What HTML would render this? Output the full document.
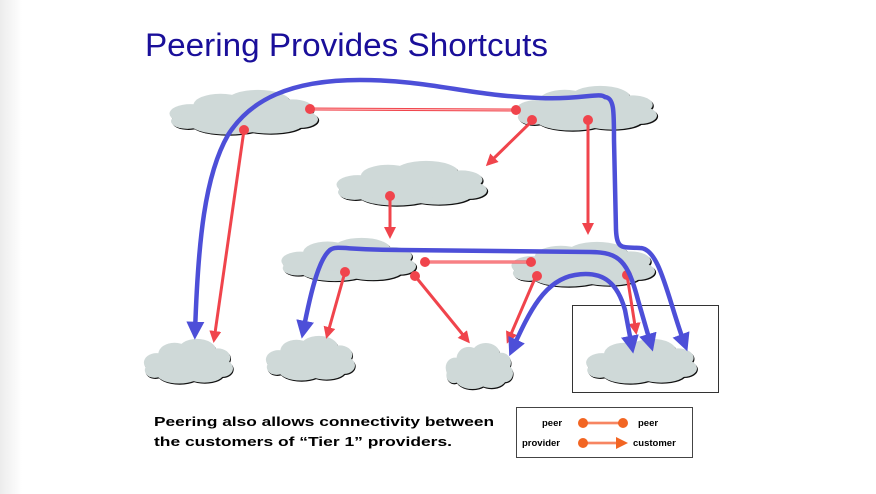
<!DOCTYPE html>
<html><head><meta charset="utf-8"><style>
html,body{margin:0;padding:0;background:#fff;}
svg{display:block}
</style></head><body>
<svg width="876" height="494" viewBox="0 0 876 494" xmlns="http://www.w3.org/2000/svg">
<defs>
<linearGradient id="lg" x1="0" x2="1"><stop offset="0" stop-color="#ececec"/><stop offset="1" stop-color="#fff"/></linearGradient>
<g id="cs">
<ellipse cx="15" cy="27" rx="14" ry="10"/><ellipse cx="35" cy="18" rx="18" ry="12"/><ellipse cx="60" cy="14" rx="21" ry="12"/><ellipse cx="83" cy="22" rx="14" ry="10"/><ellipse cx="88" cy="33" rx="12" ry="9"/><ellipse cx="68" cy="38" rx="22" ry="10"/><ellipse cx="40" cy="38" rx="25" ry="11"/><ellipse cx="13" cy="35" rx="11" ry="8"/><rect x="15" y="18" width="70" height="20"/>
</g>
<g id="cloud"><use href="#cs" transform="translate(0.8,1.2)" fill="#111"/><use href="#cs" fill="#cfd9d8"/></g>
<marker id="ra" markerWidth="4" markerHeight="4" refX="3" refY="2" orient="auto" markerUnits="strokeWidth"><path d="M0,0 L4,2 L0,4 Z" fill="#f0444c"/></marker>
<marker id="ba" markerWidth="4" markerHeight="4" refX="2.5" refY="2" orient="auto-start-reverse" markerUnits="strokeWidth"><path d="M0,0 L4,2 L0,4 Z" fill="#4d4fd8"/></marker>
</defs>
<rect x="0" y="0" width="22" height="494" fill="url(#lg)"/>
<text x="145" y="56" font-family="Liberation Sans, sans-serif" font-size="32" fill="#1a0f9a" textLength="403" lengthAdjust="spacingAndGlyphs">Peering Provides Shortcuts</text>

<use href="#cloud" transform="translate(168,88) scale(1.5,0.95)"/>
<use href="#cloud" transform="translate(515,84) scale(1.42,0.95)"/>
<use href="#cloud" transform="translate(335,159) scale(1.52,0.95)"/>
<use href="#cloud" transform="translate(280,236) scale(1.36,0.92)"/>
<use href="#cloud" transform="translate(510,240) scale(1.45,0.95)"/>
<use href="#cloud" transform="translate(143,337) scale(0.9,0.95)"/>
<use href="#cloud" transform="translate(265,334) scale(0.9,0.95)"/>
<use href="#cloud" transform="translate(445,341) scale(0.68,0.98)"/>
<use href="#cloud" transform="translate(585,337) scale(1.12,0.95)"/>

<rect x="572.5" y="305.5" width="146" height="87" fill="none" stroke="#333" stroke-width="1"/>

<g stroke="#f0444c" stroke-width="3" fill="none">
<line x1="310" y1="109" x2="516" y2="110"/>
<line x1="425" y1="262" x2="531" y2="262"/>
<line x1="532" y1="121" x2="488" y2="164" marker-end="url(#ra)"/>
<line x1="588" y1="121" x2="588" y2="232" marker-end="url(#ra)"/>
<line x1="244" y1="130" x2="214" y2="340" marker-end="url(#ra)"/>
<line x1="390" y1="196" x2="390" y2="236" marker-end="url(#ra)"/>
<line x1="345" y1="272" x2="327" y2="336" marker-end="url(#ra)"/>
<line x1="415" y1="276" x2="468" y2="341" marker-end="url(#ra)"/>
<line x1="536" y1="276" x2="508" y2="341" marker-end="url(#ra)"/>
<line x1="627" y1="275" x2="636" y2="332" marker-end="url(#ra)"/>
</g>
<line x1="310" y1="109" x2="516" y2="110" stroke="#fbb" stroke-width="1"/>
<line x1="425" y1="262" x2="531" y2="262" stroke="#fbb" stroke-width="1"/>
<g fill="#f0444c">
<circle cx="310" cy="109" r="5"/><circle cx="516" cy="110" r="5"/><circle cx="532" cy="120" r="5"/><circle cx="588" cy="120" r="5"/>
<circle cx="244" cy="130" r="5"/><circle cx="390" cy="196" r="5"/><circle cx="425" cy="262" r="5"/><circle cx="531" cy="262" r="5"/>
<circle cx="345" cy="272" r="5"/><circle cx="415" cy="276" r="5"/><circle cx="537" cy="276" r="5"/><circle cx="627" cy="275" r="5"/>
</g>

<g stroke="#4d4fd8" stroke-width="4.5" fill="none" stroke-linecap="round">
<path d="M605,97 C600,92 580,100 540,98 C470,96 430,80 360,80 C290,80 250,100 228,135 C205,175 198,240 195,333" marker-end="url(#ba)"/>
<path d="M605,97 C614,98 614,110 614,140 L616,230 C617,250 622,247 640,248 C660,248 668,300 685,345" marker-end="url(#ba)"/>
<path d="M330,250 C336,245 345,250 400,250 L590,252 C620,252 628,262 638,300 L651,345" marker-end="url(#ba)"/>
<path d="M330,250 C320,258 312,285 303,332" marker-end="url(#ba)"/>
<path d="M512,350 C530,310 545,280 575,275 C605,270 618,285 625,310 L632,347" marker-start="url(#ba)" marker-end="url(#ba)"/>
</g>

<g font-family="Liberation Sans, sans-serif" font-weight="bold" font-size="13" fill="#000">
<text x="154" y="426" textLength="340" lengthAdjust="spacingAndGlyphs">Peering also allows connectivity between</text>
<text x="154" y="446" textLength="298" lengthAdjust="spacingAndGlyphs">the customers of “Tier 1” providers.</text>
</g>

<rect x="516.5" y="407.5" width="176" height="50" fill="#fff" stroke="#444" stroke-width="1"/>
<g font-family="Liberation Sans, sans-serif" font-weight="bold" font-size="9.5" fill="#000">
<text x="542" y="426">peer</text><text x="638" y="426">peer</text>
<text x="522" y="446">provider</text><text x="633" y="446">customer</text>
</g>
<g stroke="#f26522" stroke-width="2.5">
<line x1="583" y1="423" x2="622" y2="423"/><line x1="583" y1="443" x2="620" y2="443"/>
</g>
<line x1="583" y1="423" x2="622" y2="423" stroke="#fbc" stroke-width="0.8"/>
<line x1="583" y1="443" x2="618" y2="443" stroke="#fbc" stroke-width="0.8"/>
<g fill="#f26522"><circle cx="583" cy="423" r="5"/><circle cx="623" cy="423" r="5"/><circle cx="583" cy="443" r="5"/><path d="M616,437 L628,443 L616,449 Z"/></g>
</svg>
</body></html>
